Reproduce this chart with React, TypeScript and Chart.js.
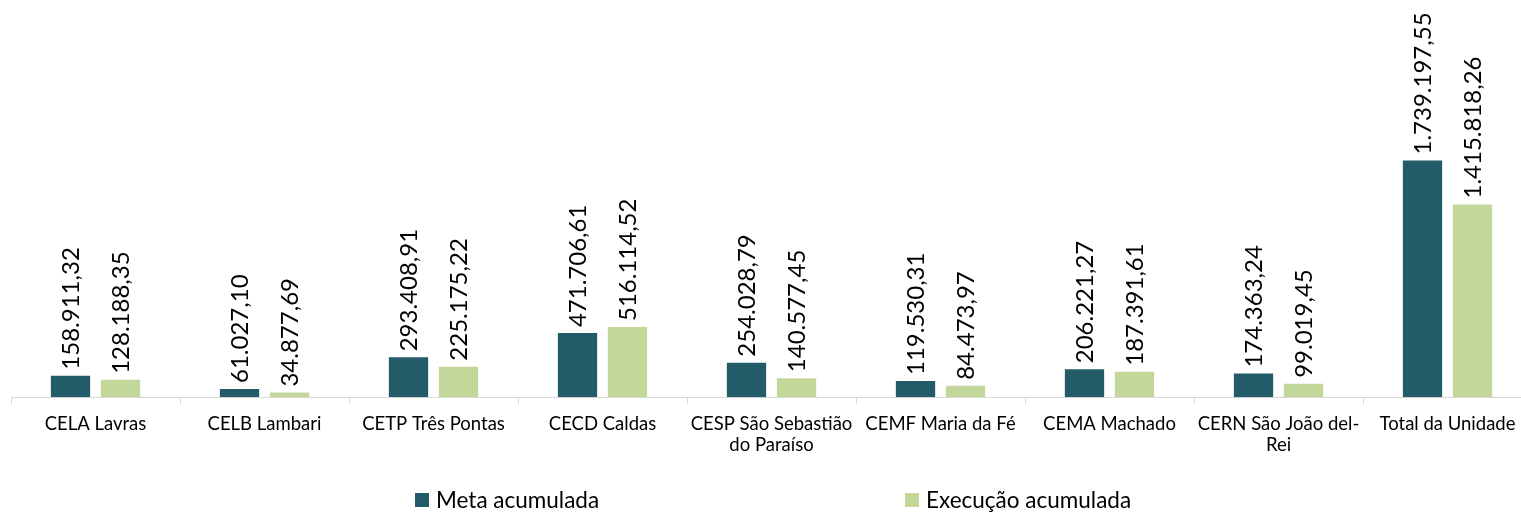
import React, { useEffect, useRef } from "react";
import { Chart, registerables } from "chart.js";

Chart.register(...registerables);

const categories: (string | string[])[] = [
  "CELA Lavras",
  "CELB Lambari",
  "CETP Três Pontas",
  "CECD Caldas",
  ["CESP São Sebastião", "do Paraíso"],
  "CEMF Maria da Fé",
  "CEMA Machado",
  ["CERN São João del-", "Rei"],
  "Total da Unidade",
];

const metaAcumulada = [
  158911.32, 61027.1, 293408.91, 471706.61, 254028.79, 119530.31, 206221.27,
  174363.24, 1739197.55,
];

const execucaoAcumulada = [
  128188.35, 34877.69, 225175.22, 516114.52, 140577.45, 84473.97, 187391.61,
  99019.45, 1415818.26,
];

const seriesNames = ["Meta acumulada", "Execução acumulada"];
const seriesColors = ["#235B68", "#C4D79B"];

const FONT = "Lato, 'Noto Sans', sans-serif";

function fmt(v: number): string {
  const [i, d] = v.toFixed(2).split(".");
  return i.replace(/\B(?=(\d{3})+(?!\d))/g, ".") + "," + d;
}

const dataLabelPlugin = {
  id: "rotatedDataLabels",
  afterDatasetsDraw(chart: any) {
    const ctx = chart.ctx;
    ctx.save();
    ctx.font = `24px ${FONT}`;
    ctx.fillStyle = "#000000";
    ctx.textAlign = "left";
    ctx.textBaseline = "middle";
    chart.data.datasets.forEach((ds: any, di: number) => {
      const meta = chart.getDatasetMeta(di);
      meta.data.forEach((bar: any, i: number) => {
        const { x, y } = bar.getProps(["x", "y"], true);
        ctx.save();
        ctx.translate(x, y - 6);
        ctx.rotate(-Math.PI / 2);
        ctx.fillText(fmt(ds.data[i]), 0, 1);
        ctx.restore();
      });
    });
    ctx.restore();
  },
};

const legendPlugin = {
  id: "spacedLegend",
  afterDraw(chart: any) {
    const ctx = chart.ctx;
    const starts = [415, 905];
    const cy = 500;
    ctx.save();
    ctx.font = `22.5px ${FONT}`;
    ctx.textBaseline = "middle";
    ctx.textAlign = "left";
    chart.data.datasets.forEach((ds: any, i: number) => {
      const x0 = starts[i];
      ctx.fillStyle = ds.backgroundColor;
      ctx.fillRect(x0, cy - 7, 14, 14);
      ctx.fillStyle = "#000000";
      ctx.fillText(ds.label, x0 + 21, cy + 1);
    });
    ctx.restore();
  },
};

export default function App() {
  const canvasRef = useRef<HTMLCanvasElement | null>(null);

  useEffect(() => {
    if (!canvasRef.current) return;
    const chart = new Chart(canvasRef.current, {
      type: "bar",
      data: {
        labels: categories,
        datasets: [
          {
            label: seriesNames[0],
            data: metaAcumulada,
            backgroundColor: seriesColors[0],
            categoryPercentage: 0.5917,
            barPercentage: 0.786,
          },
          {
            label: seriesNames[1],
            data: execucaoAcumulada,
            backgroundColor: seriesColors[1],
            categoryPercentage: 0.5917,
            barPercentage: 0.786,
          },
        ],
      },
      options: {
        animation: false,
        responsive: true,
        maintainAspectRatio: false,
        layout: { padding: { top: 125, left: 11, right: 8, bottom: 47 } },
        plugins: {
          legend: { display: false },
          tooltip: { enabled: false },
        },
        scales: {
          x: {
            grid: {
              display: true,
              drawOnChartArea: false,
              drawTicks: true,
              tickLength: 7,
              color: "#D9D9D9",
              offset: true,
            },
            border: { display: true, color: "#D9D9D9", width: 1 },
            ticks: {
              font: { family: FONT, size: 18.5, lineHeight: 1.1 },
              color: "#000000",
              maxRotation: 0,
              minRotation: 0,
              autoSkip: false,
              padding: 10,
            },
          },
          y: { display: false, min: 0, max: 2000000 },
        },
      },
      plugins: [dataLabelPlugin, legendPlugin],
    });
    return () => chart.destroy();
  }, []);

  return (
    <div
      style={{
        position: "fixed",
        left: 0,
        top: 0,
        width: 1521,
        height: 512,
        overflow: "hidden",
        background: "#ffffff",
      }}
    >
      <div style={{ width: 1540, height: 512, position: "relative" }}>
        <canvas ref={canvasRef} />
      </div>
    </div>
  );
}
